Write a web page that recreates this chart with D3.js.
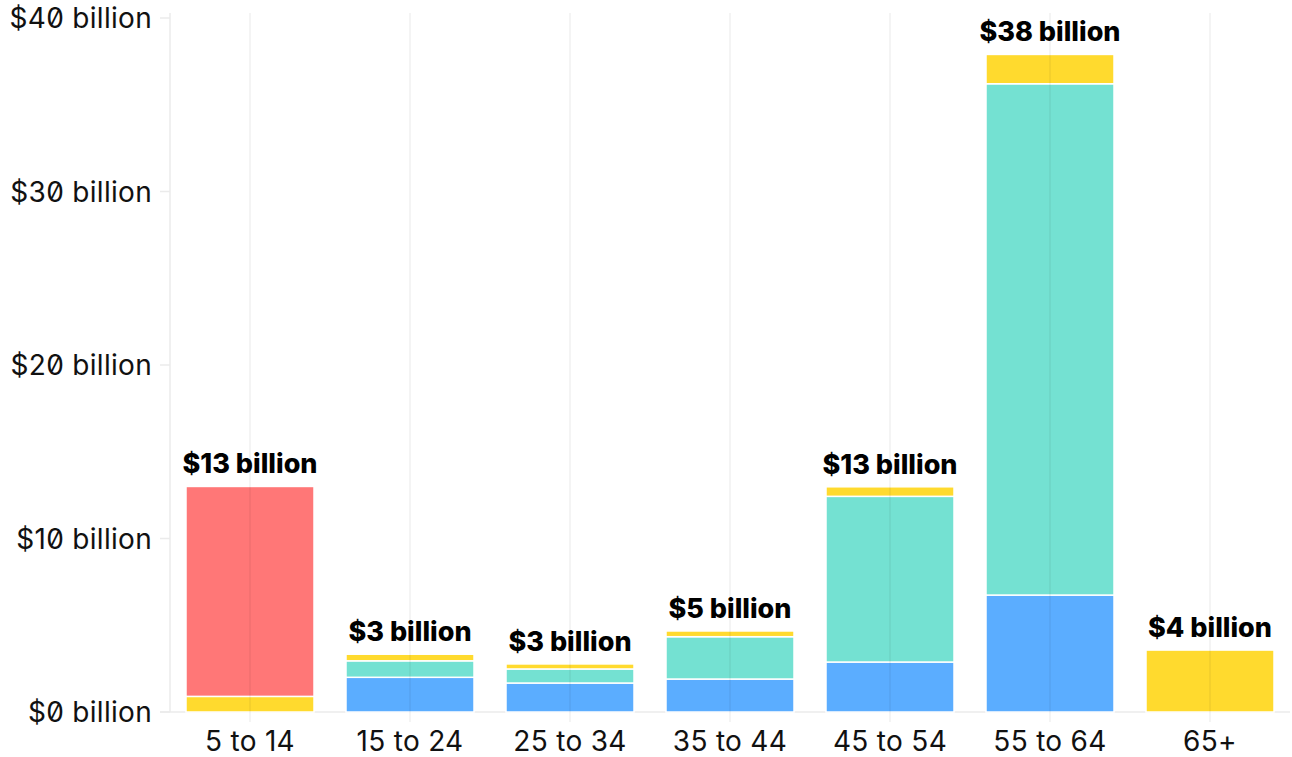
<!DOCTYPE html>
<html>
<head>
<meta charset="utf-8">
<script src="https://cdn.jsdelivr.net/npm/d3@7"></script>
<style>
  html, body { margin: 0; padding: 0; background: #fff; }
  svg { display: block; }
  text { font-family: Inter, "Noto Sans", sans-serif; font-feature-settings: "zero" 1; }
</style>
</head>
<body>
<svg id="chart" width="1292" height="757"></svg>
<script>
// Age groups along the x axis
const categories = ["5 to 14", "15 to 24", "25 to 34", "35 to 44", "45 to 54", "55 to 64", "65+"];

// Stacked segment values, in billions of dollars (bottom to top)
const blueValues   = [0,   2.00, 1.67, 1.90, 2.88, 6.74,  0];
const tealValues   = [0,   0.95, 0.81, 2.44, 9.55, 29.47, 0];
const yellowValues = [0.9, 0.38, 0.29, 0.33, 0.55, 1.69,  3.57];
const redValues    = [12.1, 0,   0,    0,    0,    0,     0];

const yTicks = [0, 10, 20, 30, 40];

const seriesKeys = ["blue", "teal", "yellow", "red"];
const seriesColors = {
  blue: "#5badff",
  teal: "#74e1d2",
  yellow: "#ffda2e",
  red: "#ff7777"
};

const rows = categories.map((c, i) => ({
  category: c,
  blue: blueValues[i],
  teal: tealValues[i],
  yellow: yellowValues[i],
  red: redValues[i]
}));

const margin = { left: 170, right: 2, top: 18, bottom: 45 };
const width = 1292, height = 757;
const svg = d3.select("#chart");

const x = d3.scaleBand()
  .domain(categories)
  .range([margin.left, width - margin.right])
  .paddingInner(0.2)
  .paddingOuter(0.1);

const y = d3.scaleLinear()
  .domain([0, 40])
  .range([712, 18]);

const gridColor = "#ebebeb";

// Vertical grid line on the left edge
svg.append("line")
  .attr("x1", margin.left).attr("x2", margin.left)
  .attr("y1", 13).attr("y2", y(0))
  .attr("stroke", gridColor).attr("stroke-width", 1.5);

// Baseline
svg.append("line")
  .attr("x1", 160).attr("x2", 1290)
  .attr("y1", y(0)).attr("y2", y(0))
  .attr("stroke", gridColor).attr("stroke-width", 1.5);

// Stacked bars
const stack = d3.stack().keys(seriesKeys);
const layers = stack(rows);

svg.append("g")
  .selectAll("g")
  .data(layers)
  .join("g")
  .attr("fill", d => seriesColors[d.key])
  .selectAll("rect")
  .data(d => d.filter(s => s[1] - s[0] > 0))
  .join("rect")
  .attr("x", d => x(d.data.category))
  .attr("width", x.bandwidth())
  .attr("y", d => y(d[1]))
  .attr("height", d => y(d[0]) - y(d[1]))
  .attr("stroke", "#fff")
  .attr("stroke-width", 1.5);

// Category grid lines drawn over the bars, faintly
svg.append("g")
  .selectAll("line")
  .data(categories)
  .join("line")
  .attr("x1", d => x(d) + x.bandwidth() / 2)
  .attr("x2", d => x(d) + x.bandwidth() / 2)
  .attr("y1", 13)
  .attr("y2", y(0) + 10)
  .attr("stroke", "rgba(0,0,0,0.06)")
  .attr("stroke-width", 1.5);

// Y axis ticks and labels
const yAxis = svg.append("g");
yAxis.selectAll("line")
  .data(yTicks)
  .join("line")
  .attr("x1", 160).attr("x2", margin.left)
  .attr("y1", d => y(d)).attr("y2", d => y(d))
  .attr("stroke", gridColor).attr("stroke-width", 1.5);
yAxis.selectAll("text")
  .data(yTicks)
  .join("text")
  .attr("x", 152)
  .attr("y", d => y(d))
  .attr("dy", "0.36em")
  .attr("text-anchor", "end")
  .attr("font-size", 28)
  .attr("letter-spacing", 0.3)
  .attr("fill", "#111")
  .text(d => `$${d} billion`);

// X axis labels
svg.append("g")
  .selectAll("text")
  .data(categories)
  .join("text")
  .attr("x", d => x(d) + x.bandwidth() / 2)
  .attr("y", 751)
  .attr("text-anchor", "middle")
  .attr("font-size", 28)
  .attr("letter-spacing", 0.3)
  .attr("fill", "#111")
  .text(d => d);

// Total labels above each bar
svg.append("g")
  .selectAll("text")
  .data(rows)
  .join("text")
  .attr("x", d => x(d.category) + x.bandwidth() / 2)
  .attr("y", d => y(d3.sum(seriesKeys, k => d[k])) - 13)
  .attr("text-anchor", "middle")
  .attr("font-size", 27)
  .attr("font-weight", 800)
  .attr("fill", "#000")
  .text(d => `$${Math.round(d3.sum(seriesKeys, k => d[k]))} billion`);
</script>
</body>
</html>
